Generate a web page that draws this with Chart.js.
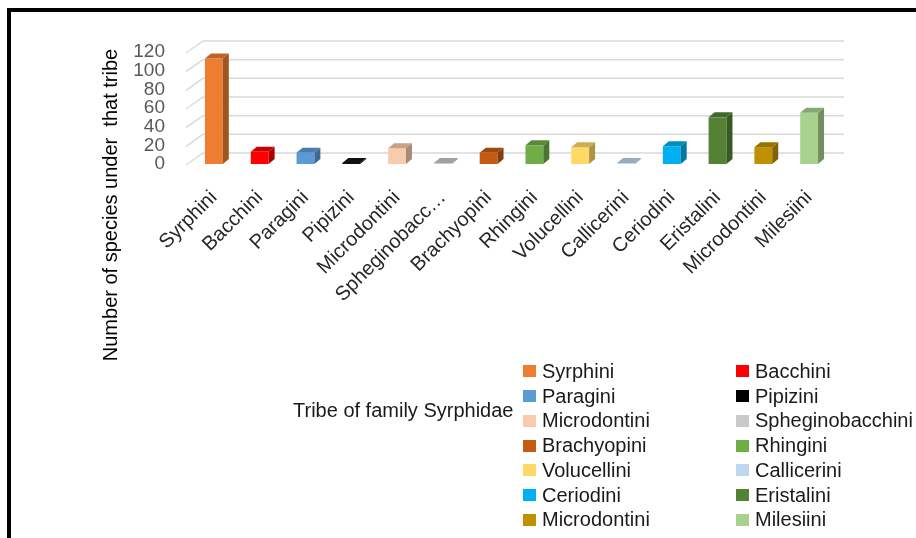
<!DOCTYPE html>
<html lang="en">
<head>
  <meta charset="UTF-8">
  <title>Tribes of family Syrphidae</title>
  <script src="https://cdn.jsdelivr.net/npm/chart.js"></script>
  <style>
    html, body {
      margin: 0;
      width: 916px;
      height: 538px;
      overflow: hidden;
      background: #fff;
      font-family: 'Liberation Sans', Arial, sans-serif;
    }
    .frame {
      position: absolute;
      left: 7px;
      top: 8px;
      width: 1000px;
      height: 600px;
      border: 4px solid #000;
      box-sizing: border-box;
    }
    #wrap {
      position: absolute;
      left: 0;
      top: 0;
      width: 916px;
      height: 538px;
    }
    .y-title {
      position: absolute;
      left: -70px;
      top: 195px;
      width: 360px;
      line-height: 20px;
      font-size: 20px;
      text-align: center;
      color: #000;
      transform: rotate(-90deg);
      white-space: pre;
    }
    .x-title {
      position: absolute;
      left: 293px;
      top: 400px;
      font-size: 20px;
      line-height: 20px;
      color: #1a1a1a;
    }
    #legend {
      position: absolute;
      left: 523px;
      top: 359px;
      display: grid;
      grid-template-columns: 213px 180px;
      grid-auto-rows: 24.75px;
    }
    #legend .item {
      display: flex;
      align-items: center;
      font-size: 20px;
      color: #1a1a1a;
      white-space: nowrap;
    }
    #legend .box {
      width: 13px;
      height: 12px;
      margin-right: 6px;
      flex: none;
    }
  </style>
</head>
<body>
  <div class="frame"></div>
  <div id="wrap"><canvas id="tribeChart"></canvas></div>
  <div class="y-title">Number of species under  that tribe</div>
  <div class="x-title">Tribe of family Syrphidae</div>
  <div id="legend"></div>

  <script>
    // data
    const tribes = ['Syrphini', 'Bacchini', 'Paragini', 'Pipizini', 'Microdontini', 'Spheginobacchini',
      'Brachyopini', 'Rhingini', 'Volucellini', 'Callicerini', 'Ceriodini', 'Eristalini', 'Microdontini', 'Milesiini'];
    const speciesCount = [113, 13, 12, 1, 17, 1, 12, 20, 18, 1, 19, 50, 18, 55];
    const barColors = ['#ED7D31', '#FF0000', '#5B9BD5', '#000000', '#F8CBAD', '#C9C9C9',
      '#C55A11', '#70AD47', '#FFD966', '#BDD7EE', '#00B0F0', '#548235', '#BF9000', '#A9D18E'];
    const yTickValues = [0, 20, 40, 60, 80, 100, 120];

    const FONT = "'Liberation Sans', Arial, sans-serif";
    const DEPTH_X = 6, DEPTH_Y = 5;

    function shade(hex, f) {
      const n = parseInt(hex.slice(1), 16);
      const r = Math.round(((n >> 16) & 255) * f);
      const g = Math.round(((n >> 8) & 255) * f);
      const b = Math.round((n & 255) * f);
      return 'rgb(' + r + ',' + g + ',' + b + ')';
    }

    // back wall gridlines, slanted like the 3D excel chart
    const backGrid = {
      id: 'backGrid',
      beforeDatasetsDraw(chart) {
        const ctx = chart.ctx;
        const y = chart.scales.y;
        const area = chart.chartArea;
        ctx.save();
        ctx.strokeStyle = '#D9D9D9';
        ctx.lineWidth = 1.5;
        yTickValues.forEach(v => {
          const py = y.getPixelForValue(v);
          ctx.beginPath();
          ctx.moveTo(area.left - 5, py + 1);
          ctx.lineTo(area.left + 12, py - 11);
          ctx.lineTo(area.right + 12, py - 11);
          ctx.stroke();
        });
        ctx.restore();
      }
    };

    // side and top faces of the bars
    const barDepth = {
      id: 'barDepth',
      afterDatasetsDraw(chart) {
        const ctx = chart.ctx;
        const meta = chart.getDatasetMeta(0);
        ctx.save();
        meta.data.forEach((bar, i) => {
          const p = bar.getProps(['x', 'y', 'base', 'width'], true);
          const l = p.x - p.width / 2, r = p.x + p.width / 2;
          const c = barColors[i];
          ctx.fillStyle = shade(c, 0.68);
          ctx.beginPath();
          ctx.moveTo(r, p.y);
          ctx.lineTo(r + DEPTH_X, p.y - DEPTH_Y);
          ctx.lineTo(r + DEPTH_X, p.base - DEPTH_Y);
          ctx.lineTo(r, p.base);
          ctx.closePath();
          ctx.fill();
          ctx.fillStyle = c === '#000000' ? '#111' : shade(c, 0.8);
          ctx.beginPath();
          ctx.moveTo(l, p.y);
          ctx.lineTo(l + DEPTH_X, p.y - DEPTH_Y);
          ctx.lineTo(r + DEPTH_X, p.y - DEPTH_Y);
          ctx.lineTo(r, p.y);
          ctx.closePath();
          ctx.fill();
        });
        ctx.restore();
      }
    };

    new Chart(document.getElementById('tribeChart'), {
      type: 'bar',
      data: {
        labels: tribes,
        datasets: [{
          data: speciesCount,
          backgroundColor: barColors,
          borderWidth: 0,
          categoryPercentage: 1,
          barPercentage: 0.39
        }]
      },
      options: {
        responsive: true,
        maintainAspectRatio: false,
        animation: false,
        layout: { padding: { left: 131, right: 84, top: 52, bottom: 214 } },
        plugins: {
          legend: { display: false },
          tooltip: { enabled: false }
        },
        scales: {
          x: {
            grid: { display: false },
            border: { display: false },
            afterFit(scale) { scale.height = 160; },
            ticks: {
              minRotation: 45,
              maxRotation: 45,
              autoSkip: false,
              padding: 14,
              color: '#262626',
              font: { family: FONT, size: 20 },
              callback(val, i) {
                const s = tribes[i];
                return s.length > 13 ? s.slice(0, 12) + '…' : s;
              }
            }
          },
          y: {
            min: 0,
            max: 120,
            grid: { display: false, drawTicks: false },
            border: { display: false },
            afterFit(scale) { scale.width = 60; },
            ticks: {
              stepSize: 20,
              autoSkip: false,
              padding: 26,
              color: '#595959',
              font: { family: FONT, size: 19 }
            }
          }
        }
      },
      plugins: [backGrid, barDepth]
    });

    // legend, two columns in row order
    const legendEl = document.getElementById('legend');
    tribes.forEach((name, i) => {
      const item = document.createElement('div');
      item.className = 'item';
      const box = document.createElement('span');
      box.className = 'box';
      box.style.background = barColors[i];
      item.appendChild(box);
      item.appendChild(document.createTextNode(name));
      legendEl.appendChild(item);
    });
  </script>
</body>
</html>
